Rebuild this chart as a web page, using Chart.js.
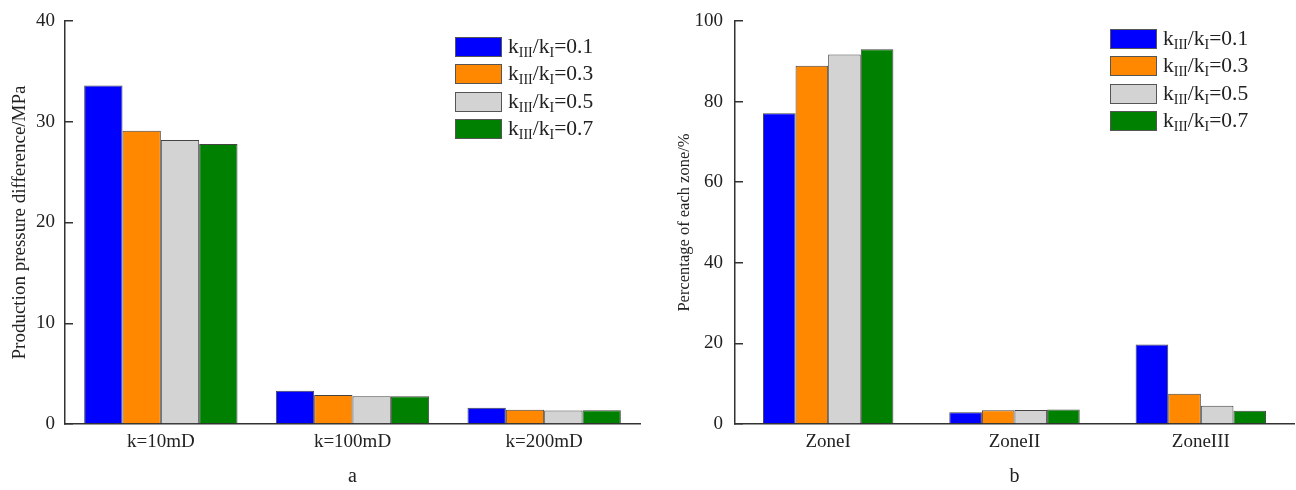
<!DOCTYPE html>
<html>
<head>
<meta charset="utf-8">
<script src="https://cdn.jsdelivr.net/npm/chart.js@4.4.1/dist/chart.umd.min.js"></script>
<style>
  html, body { margin: 0; padding: 0; background: #ffffff; }
  #wrap { position: relative; width: 1296px; height: 490px; overflow: hidden; background: #ffffff; }
  canvas { position: absolute; top: 0; }
  .legend { position: absolute; font-family: "Liberation Serif", "Times New Roman", serif; font-size: 21.5px; color: #222; }
  .legend .row { position: absolute; left: 0; height: 20px; white-space: nowrap; }
  .legend .box { position: absolute; left: 0; top: 0; width: 47px; height: 20px; box-sizing: border-box; border: 1px solid #555; }
  .legend .txt { position: absolute; top: -3px; line-height: 24px; }
  .legend sub { font-size: 14px; vertical-align: baseline; position: relative; top: 4px; }
</style>
</head>
<body>
<div id="wrap">
  <canvas id="chartA" width="650" height="490" style="left:0px"></canvas>
  <canvas id="chartB" width="646" height="490" style="left:650px"></canvas>
  <div id="legendA" class="legend" style="left:455px; top:37px;"></div>
  <div id="legendB" class="legend" style="left:1110px; top:29px;"></div>
</div>
<script>
// Ratio of zone III to zone I permeability for each series
const ratioLabels = ['kIII/kI=0.1', 'kIII/kI=0.3', 'kIII/kI=0.5', 'kIII/kI=0.7'];
const seriesColors = ['#0000FF', '#FF8800', '#D3D3D3', '#008000'];

// (a) production pressure difference, MPa
const permeabilityCategories = ['k=10mD', 'k=100mD', 'k=200mD'];
const pressureRatio01 = [33.6, 3.3, 1.62];
const pressureRatio03 = [29.1, 2.88, 1.42];
const pressureRatio05 = [28.2, 2.76, 1.35];
const pressureRatio07 = [27.8, 2.75, 1.36];
const pressureTicks = [0, 10, 20, 30, 40];

// (b) contribution of each zone, %
const zoneCategories = ['ZoneI', 'ZoneII', 'ZoneIII'];
const shareRatio01 = [77.1, 2.9, 19.7];
const shareRatio03 = [88.9, 3.4, 7.5];
const shareRatio05 = [91.7, 3.5, 4.5];
const shareRatio07 = [93.0, 3.6, 3.3];
const shareTicks = [0, 20, 40, 60, 80, 100];

const serif = '"Liberation Serif", "Times New Roman", serif';
const inkColor = '#333333';

function buildDatasets(seriesList) {
  return seriesList.map((values, i) => ({
    label: ratioLabels[i],
    data: values,
    backgroundColor: seriesColors[i],
    borderColor: '#444444',
    borderWidth: 1,
    borderSkipped: 'bottom'
  }));
}

// Legend rendered as HTML so the permeability subscripts can be typeset
function htmlLegendPlugin(containerId) {
  return {
    id: 'htmlLegend_' + containerId,
    afterUpdate(chart) {
      const box = document.getElementById(containerId);
      box.innerHTML = '';
      const items = chart.options.plugins.legend.labels.generateLabels(chart);
      items.forEach((item, i) => {
        const row = document.createElement('div');
        row.className = 'row';
        row.style.top = (i * 27.4) + 'px';
        const swatch = document.createElement('span');
        swatch.className = 'box';
        swatch.style.background = item.fillStyle;
        const txt = document.createElement('span');
        txt.className = 'txt';
        txt.style.left = '53px';
        const m = /^k(I+)\/k(I+)=(.*)$/.exec(item.text);
        txt.innerHTML = m ? 'k<sub>' + m[1] + '</sub>/k<sub>' + m[2] + '</sub>=' + m[3] : item.text;
        row.appendChild(swatch);
        row.appendChild(txt);
        box.appendChild(row);
      });
    }
  };
}

function makeChart(canvasId, legendId, cfg) {
  const tickValues = cfg.ticks;
  return new Chart(document.getElementById(canvasId), {
    type: 'bar',
    data: { labels: cfg.labels, datasets: buildDatasets(cfg.series) },
    options: {
      responsive: false,
      animation: false,
      devicePixelRatio: 1,
      layout: { padding: { left: 0, right: cfg.padRight, top: 21, bottom: 0 } },
      plugins: {
        legend: { display: false },
        tooltip: { enabled: false }
      },
      datasets: { bar: { categoryPercentage: cfg.catPct, barPercentage: 1.0 } },
      scales: {
        x: {
          type: 'category',
          offset: true,
          grid: { display: false, drawTicks: false },
          border: { display: true, color: inkColor, width: 1.5 },
          ticks: {
            color: '#222',
            font: { family: serif, size: 19 },
            padding: 7,
            maxRotation: 0,
            autoSkip: false
          },
          title: {
            display: true,
            text: cfg.caption,
            color: '#222',
            font: { family: serif, size: 20 },
            padding: { top: 0, bottom: 1 }
          },
          afterFit(scale) { scale.height = 66; }
        },
        y: {
          min: tickValues[0],
          max: tickValues[tickValues.length - 1],
          afterBuildTicks(scale) { scale.ticks = tickValues.map(v => ({ value: v })); },
          grid: {
            display: true,
            drawOnChartArea: false,
            drawTicks: true,
            tickLength: -8,
            color: inkColor,
            lineWidth: 1.5
          },
          border: { display: true, color: inkColor, width: 1.5 },
          ticks: {
            color: '#222',
            font: { family: serif, size: 19 },
            padding: cfg.tickPad
          },
          title: {
            display: true,
            text: cfg.yTitle,
            color: '#222',
            font: { family: serif, size: cfg.titleSize },
            padding: { top: cfg.titlePad, bottom: 0 }
          },
          afterFit(scale) {
            scale.width = cfg.yWidth;
            // only the half-height of the end labels needs room above/below the axis
            scale.paddingTop = 10;
            scale.paddingBottom = 0;
          }
        }
      }
    },
    plugins: [htmlLegendPlugin(legendId)]
  });
}

makeChart('chartA', 'legendA', {
  labels: permeabilityCategories,
  series: [pressureRatio01, pressureRatio03, pressureRatio05, pressureRatio07],
  ticks: pressureTicks,
  yTitle: 'Production pressure difference/MPa',
  caption: 'a',
  yWidth: 65,
  padRight: 10,
  tickPad: 18,
  titlePad: 9,
  titleSize: 19,
  catPct: 0.8
});

makeChart('chartB', 'legendB', {
  labels: zoneCategories,
  series: [shareRatio01, shareRatio03, shareRatio05, shareRatio07],
  ticks: shareTicks,
  yTitle: 'Percentage of each zone/%',
  caption: 'b',
  yWidth: 85,
  padRight: 2,
  tickPad: 20,
  titlePad: 25,
  titleSize: 16.5,
  catPct: 0.7
});
</script>
</body>
</html>
